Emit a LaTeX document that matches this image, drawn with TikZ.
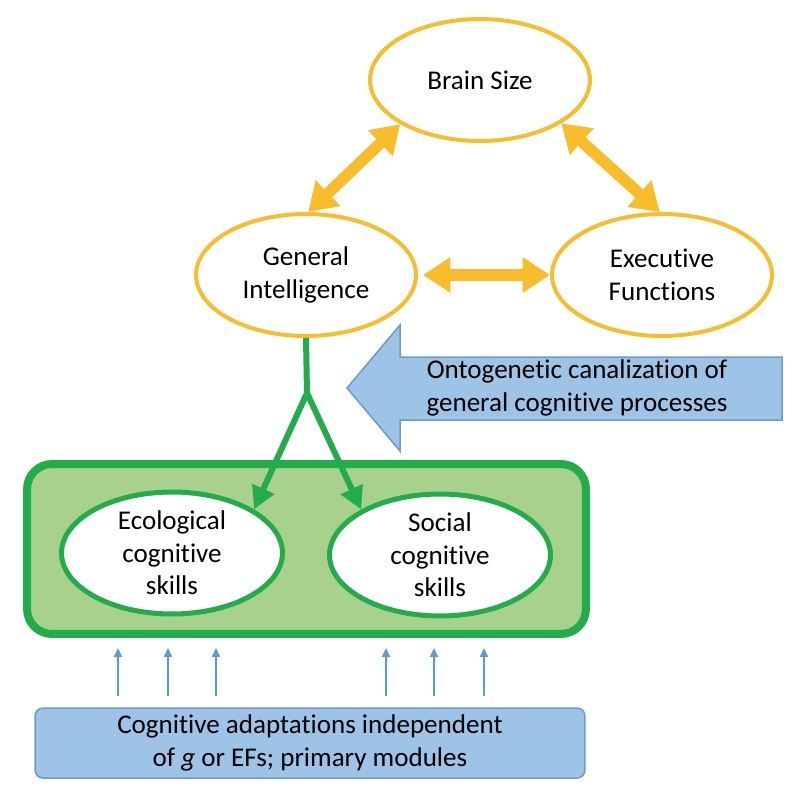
\documentclass[tikz,border=0pt]{standalone}
\usepackage{fontspec}
\setmainfont[Ligatures=NoCommon]{Carlito}
\usepackage{tikz}
\usepackage{xcolor}
\usetikzlibrary{
    arrows.meta,
    shapes,
    calc,
    positioning
}
\definecolor{gold}{HTML}{F9BD2C}
\definecolor{leaf}{HTML}{22AD4B}
\definecolor{leaflight}{HTML}{A9D18E}
\definecolor{sky}{HTML}{9DC3E6}
\definecolor{skyline}{HTML}{6C9ACB}
\definecolor{skyarrow}{HTML}{5B9BD5}
\tikzset{
    txt/.style={font=\fontsize{15.4}{18.5}\selectfont, align=center},
    goldell/.style={txt, ellipse, draw=gold, line width=0.08cm, fill=white,
        inner sep=0pt, minimum width=4.4cm, minimum height=2.44cm},
    leafell/.style={txt, ellipse, draw=leaf, line width=0.1cm, fill=white,
        inner sep=0pt, minimum width=4.42cm, minimum height=2.44cm},
    bigArrow/.style={gold, line width=0.23cm,
        {Triangle[length=0.55cm, width=0.68cm]}-{Triangle[length=0.55cm, width=0.68cm]}},
    leafArrow/.style={leaf, line width=0.12cm, -{Triangle[length=0.45cm, width=0.46cm]}},
    upArrow/.style={skyarrow, line width=0.04cm, -{Triangle[length=0.18cm, width=0.16cm]}}
}
\begin{document}
\begin{tikzpicture}[x=0.02cm, y=-0.02cm]
    \useasboundingbox (0,0) rectangle (796,796);
    % yellow triangle
    \node[goldell] (brain) at (480,80) {Brain Size};
    \node[goldell] (gi) at (306,275) {General\\Intelligence};
    \node[goldell] (ef) at (662,275) {Executive\\Functions};
    \draw[bigArrow] (gi.88) -- (brain.209);
    \draw[bigArrow] (brain.332) -- (ef.92);
    \draw[bigArrow] ([xshift=0.1cm]gi.east) -- (ef.west);
    % green box
    \node[draw=leaf, fill=leaflight, line width=0.16cm, rounded corners=0.5cm,
        minimum width=11.18cm, minimum height=3.4cm] (skills) at (306.5,549) {};
    \node[leafell] (eco) at (172,553) {Ecological\\cognitive\\skills};
    \node[leafell] (soc) at (440,555) {Social\\cognitive\\skills};
    \coordinate (fork) at (307,393);
    \draw[leaf, line width=0.12cm] (gi.south) -- (fork);
    \draw[leafArrow] (fork) -- (eco.28);
    \draw[leafArrow] (fork) -- (soc.150);
    % canalization arrow
    \draw[skyline, fill=sky, line width=0.03cm]
        (347,388) -- (400,325) -- (400,357) -- (782,357)
        -- (782,420) -- (400,420) -- (400,451) -- cycle;
    \node[txt] (canal) at (577,388) {Ontogenetic canalization of\\general cognitive processes};
    % primary modules
    \node[txt, draw=skyline, fill=sky, line width=0.03cm, rounded corners=0.16cm,
        minimum width=11cm, minimum height=1.4cm] (adapt) at (310,743)
        {Cognitive adaptations independent\\of \textit{g} or EFs; primary modules};
    \foreach \x in {118,168,216,386,434,484} {
        \coordinate (col) at (\x,0);
        \draw[upArrow, shorten <=0.22cm, shorten >=0.2cm] (col |- adapt.north) -- (col |- skills.south);
    }
\end{tikzpicture}
\end{document}
